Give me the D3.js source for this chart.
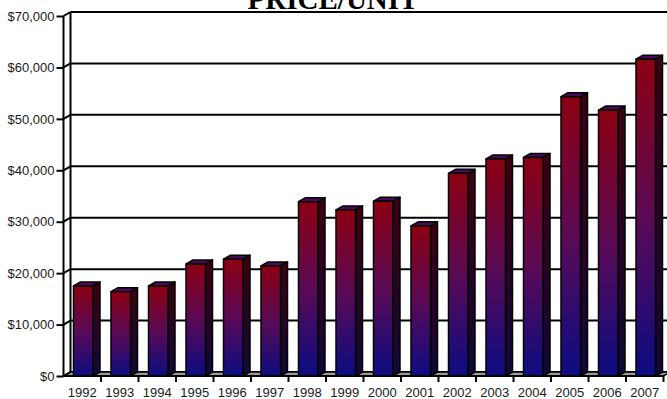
<!DOCTYPE html>
<html>
<head>
<meta charset="utf-8">
<script src="https://cdn.jsdelivr.net/npm/d3@7"></script>
<style>
  html, body { margin: 0; padding: 0; background: #fff; }
  svg { display: block; }
</style>
</head>
<body>
<svg id="chart" width="667" height="399"></svg>
<script>
// Price per unit by year
const years = ["1992","1993","1994","1995","1996","1997","1998","1999",
               "2000","2001","2002","2003","2004","2005","2006","2007"];
const prices = [17500, 16400, 17500, 21800, 22700, 21400, 33900, 32300,
                34000, 29200, 39400, 42200, 42500, 54300, 51700, 61600];
const yTicks = [0, 10000, 20000, 30000, 40000, 50000, 60000, 70000];
const title = "PRICE/UNIT";

const svg = d3.select("#chart");
const W = 667, H = 399;

// 3D depth offset of the back wall
const DX = 7, DY = -4;

const x = d3.scaleBand().domain(years).range([63.5, 663.5]).padding(0);
const y = d3.scaleLinear().domain([0, 70000]).range([376, 16]);

const fmt = v => "$" + d3.format(",")(v);

const defs = svg.append("defs");
const gFront = defs.append("linearGradient")
  .attr("id", "front").attr("x1", 0).attr("y1", 0).attr("x2", 0).attr("y2", 1);
gFront.append("stop").attr("offset", "0%").attr("stop-color", "#8c0012");
gFront.append("stop").attr("offset", "50%").attr("stop-color", "#5a0a55");
gFront.append("stop").attr("offset", "100%").attr("stop-color", "#0c0c82");
const gSide = defs.append("linearGradient")
  .attr("id", "side").attr("x1", 0).attr("y1", 0).attr("x2", 0).attr("y2", 1);
gSide.append("stop").attr("offset", "0%").attr("stop-color", "#3c0010");
gSide.append("stop").attr("offset", "100%").attr("stop-color", "#100838");

const x0 = x.range()[0], x1 = x.range()[1];

// back wall gridlines
svg.append("g").selectAll("line").data(yTicks).join("line")
  .attr("x1", x0 + DX).attr("x2", W + 5)
  .attr("y1", d => y(d) + DY).attr("y2", d => y(d) + DY)
  .attr("stroke", "#000").attr("stroke-width", 2);

// floor
svg.append("polygon")
  .attr("points", [[x0, y(0)], [x0 + DX, y(0) + DY], [x1 + DX, y(0) + DY], [x1, y(0)]].join(" "))
  .attr("fill", "#9a9a9a").attr("stroke", "#000").attr("stroke-width", 1.5);

// left wall
const wall = svg.append("g").attr("stroke", "#000").attr("stroke-width", 2);
wall.append("line").attr("x1", x0 + DX).attr("x2", x0 + DX)
  .attr("y1", y(70000) + DY).attr("y2", y(0) + DY);
wall.append("line").attr("x1", x0).attr("x2", x0)
  .attr("y1", y(70000)).attr("y2", y(0));
wall.selectAll("line.j").data(yTicks).join("line").attr("class", "j")
  .attr("x1", x0).attr("y1", d => y(d))
  .attr("x2", x0 + DX).attr("y2", d => y(d) + DY);

// bars
const bw = 19.5, off = 10;
const bars = svg.append("g").selectAll("g").data(years.map((c, i) => ({ c, v: prices[i] })))
  .join("g").attr("stroke", "#000").attr("stroke-width", 1.5).attr("stroke-linejoin", "round");
bars.append("polygon")
  .attr("points", d => {
    const bx = x(d.c) + off, t = y(d.v), b = y(0);
    return [[bx + bw, t], [bx + bw + DX, t + DY], [bx + bw + DX, b + DY], [bx + bw, b]].join(" ");
  })
  .attr("fill", "url(#side)");
bars.append("polygon")
  .attr("points", d => {
    const bx = x(d.c) + off, t = y(d.v);
    return [[bx, t], [bx + DX, t + DY], [bx + bw + DX, t + DY], [bx + bw, t]].join(" ");
  })
  .attr("fill", "#4a0a5c");
bars.append("rect")
  .attr("x", d => x(d.c) + off).attr("width", bw)
  .attr("y", d => y(d.v)).attr("height", d => y(0) - y(d.v))
  .attr("fill", "url(#front)");

// front axes
const yAxis = d3.axisLeft(y).tickValues(yTicks).tickFormat(fmt).tickSize(7).tickPadding(2);
const gy = svg.append("g").attr("transform", `translate(${x0},0)`).call(yAxis);
gy.select(".domain").remove();
gy.selectAll(".tick line").attr("stroke", "#000").attr("stroke-width", 2);
gy.selectAll(".tick text").attr("font-family", "Liberation Sans, Arial, sans-serif")
  .attr("font-size", 13).attr("fill", "#1a1a1a");

svg.append("line").attr("x1", x0).attr("x2", x1).attr("y1", y(0)).attr("y2", y(0))
  .attr("stroke", "#000").attr("stroke-width", 2);

// category boundary ticks
svg.append("g").selectAll("line").data(years.map(c => x(c)).concat([x1]).slice(1)).join("line")
  .attr("x1", d => d).attr("x2", d => d).attr("y1", y(0)).attr("y2", y(0) + 6)
  .attr("stroke", "#000").attr("stroke-width", 2);

svg.append("g").selectAll("text").data(years).join("text")
  .attr("x", d => x(d) + x.bandwidth() / 2).attr("y", 396.5)
  .attr("text-anchor", "middle")
  .attr("font-family", "Liberation Sans, Arial, sans-serif").attr("font-size", 13)
  .attr("fill", "#1a1a1a").text(d => d);

// title
svg.append("text").attr("x", 333).attr("y", 9).attr("text-anchor", "middle")
  .attr("font-family", "Liberation Serif, Times New Roman, serif")
  .attr("font-weight", "bold").attr("font-size", 29).attr("fill", "#000")
  .text(title);
</script>
</body>
</html>
